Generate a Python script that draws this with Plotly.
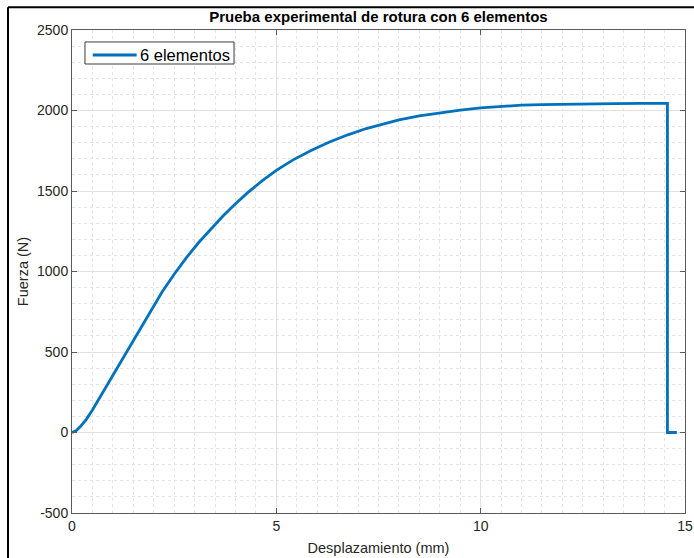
import plotly.graph_objects as go

# Ensayo de rotura: desplazamiento (mm) frente a fuerza (N)
desplazamiento_mm = [0, 0.1, 0.2, 0.35, 0.5, 0.75, 1.0, 1.3, 1.6, 1.9, 2.2, 2.5,
                     2.8, 3.1, 3.4, 3.7, 4.0, 4.3, 4.65, 5.0, 5.4, 5.85, 6.3,
                     6.75, 7.2, 7.6, 8.0, 8.5, 9.0, 9.5, 10.0, 10.5, 11.0, 11.5,
                     12.1, 12.7, 13.3, 13.9, 14.57, 14.57, 14.8]
fuerza_n = [0, 11, 35, 82, 140, 248, 360, 491, 621, 749, 871, 983,
            1086, 1180, 1266, 1346, 1421, 1490, 1563, 1628, 1692, 1752, 1804,
            1849, 1888, 1917, 1942, 1967, 1987, 2003, 2016, 2026, 2033, 2037,
            2040, 2042, 2043, 2044, 2044, 0, 0]
nombre_serie = "6 elementos"

x_ticks = [0, 5, 10, 15]
y_ticks = [-500, 0, 500, 1000, 1500, 2000, 2500]

font_family = "Liberation Sans, Arial, sans-serif"
axis_color = "#5a5a5a"
line_color = "#0072BD"

fig = go.Figure()
fig.add_trace(go.Scatter(
    x=desplazamiento_mm, y=fuerza_n, mode="lines", name=nombre_serie,
    line=dict(color=line_color, width=2.8),
    showlegend=False,
))

common_axis = dict(
    showline=True, linecolor=axis_color, linewidth=1, mirror="ticks",
    ticks="inside", ticklen=5, tickcolor=axis_color,
    showgrid=True, gridcolor="#e1e1e1", gridwidth=1,
    zeroline=False, automargin=False,
    tickfont=dict(family=font_family, size=14, color="#262626"),
)

fig.update_xaxes(
    range=[0, 15], tickvals=x_ticks, ticktext=[str(v) for v in x_ticks],
    title=dict(text="Desplazamiento (mm)", standoff=10,
               font=dict(family=font_family, size=14.5, color="#262626")),
    minor=dict(dtick=0.5, showgrid=True, gridcolor="#e4e4e4", griddash="dot",
               gridwidth=1, ticks=""),
    **common_axis,
)
fig.update_yaxes(
    range=[-500, 2500], tickvals=y_ticks, ticktext=[str(v) for v in y_ticks],
    title=dict(text="Fuerza (N)", standoff=4,
               font=dict(family=font_family, size=14.5, color="#262626")),
    minor=dict(dtick=100, showgrid=True, gridcolor="#e4e4e4", griddash="dot",
               gridwidth=1, ticks=""),
    **common_axis,
)

# leyenda compacta en la esquina superior izquierda
fig.add_shape(type="rect", xref="paper", yref="paper",
              x0=0.0212, x1=0.2643, y0=0.9296, y1=0.9752,
              fillcolor="white", line=dict(color="#3a3a3a", width=1), layer="above")
fig.add_shape(type="line", xref="paper", yref="paper",
              x0=0.0338, x1=0.1055, y0=0.9482, y1=0.9482,
              line=dict(color=line_color, width=2.8), layer="above")
fig.add_annotation(text=nombre_serie, xref="paper", yref="paper",
                   x=0.1077, y=0.9482, xanchor="left", yanchor="middle",
                   showarrow=False,
                   font=dict(family=font_family, size=16.5, color="black"))

# marco exterior de la figura
fig.add_shape(type="line", xref="paper", yref="paper",
              x0=-0.1044, x1=1.02, y0=1.047, y1=1.047,
              line=dict(color="black", width=2))
fig.add_shape(type="line", xref="paper", yref="paper",
              x0=-0.1044, x1=-0.1044, y0=1.047, y1=-0.1,
              line=dict(color="black", width=2))

fig.update_layout(
    width=694, height=558,
    margin=dict(l=72, r=9, t=30, b=45, autoexpand=False),
    paper_bgcolor="white", plot_bgcolor="white",
    title=dict(text="<b>Prueba experimental de rotura con 6 elementos</b>",
               x=0.5, xanchor="center", y=1 - 17 / 558, yanchor="middle",
               xref="paper", yref="container",
               font=dict(family=font_family, size=15, color="black")),
    showlegend=False,
)

fig.write_html("out.html")
